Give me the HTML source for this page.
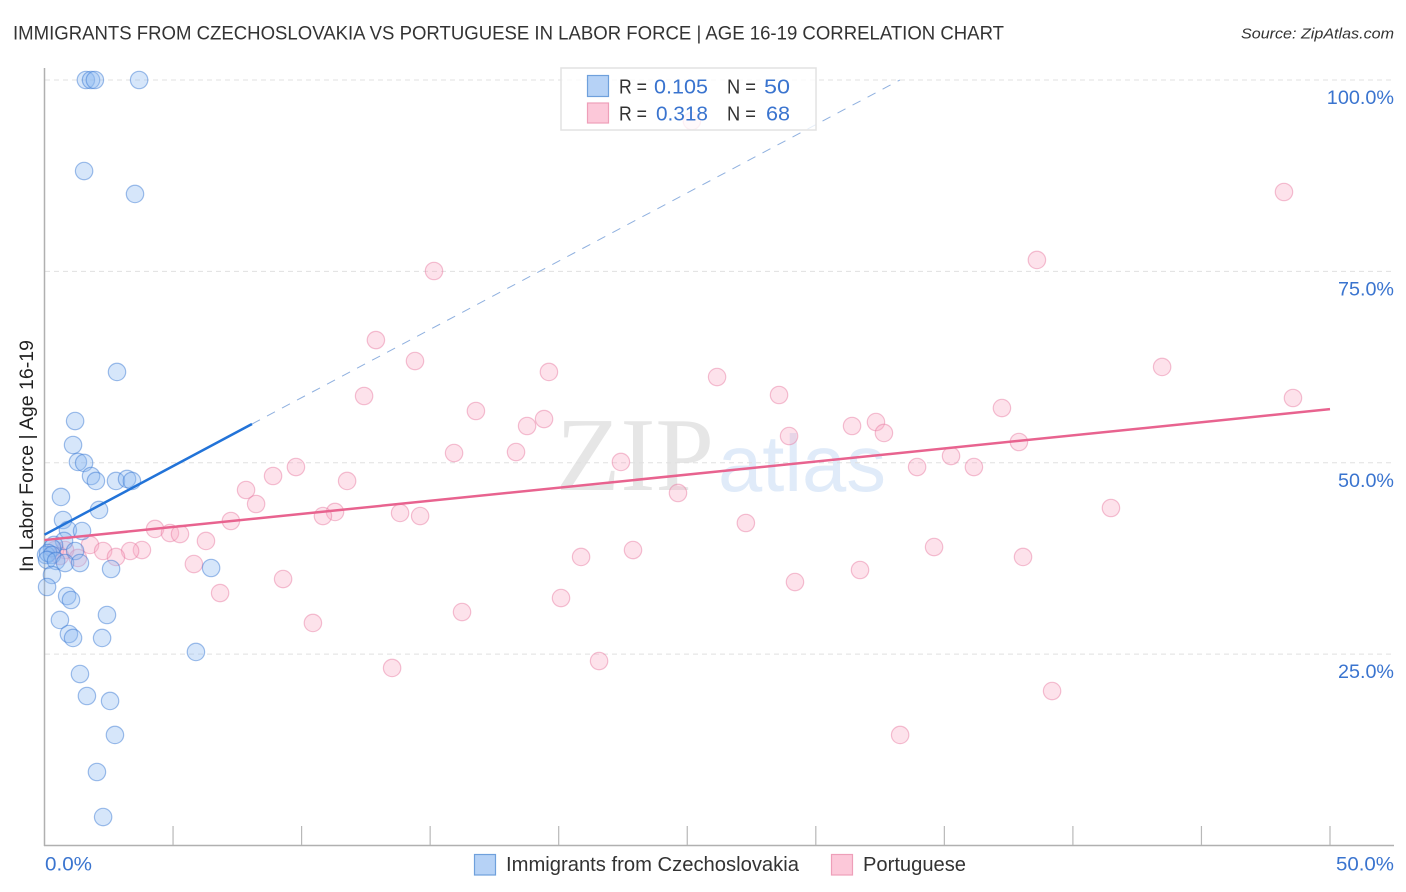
<!DOCTYPE html>
<html lang="en">
<head>
<meta charset="utf-8">
<title>Immigrants from Czechoslovakia vs Portuguese in Labor Force</title>
<style>
html,body{margin:0;padding:0;background:#fff;width:1406px;height:892px;overflow:hidden}
svg{display:block;font-family:"Liberation Sans",sans-serif}
</style>
</head>
<body>
<svg id="chart" width="1406" height="892" viewBox="0 0 1406 892" xmlns="http://www.w3.org/2000/svg">
  <text x="13" y="39.500" font-size="19.500" fill="#333" textLength="991" lengthAdjust="spacingAndGlyphs">IMMIGRANTS FROM CZECHOSLOVAKIA VS PORTUGUESE IN LABOR FORCE | AGE 16-19 CORRELATION CHART</text>
  <text x="1241" y="38.500" font-size="15" font-style="italic" fill="#333" textLength="153" lengthAdjust="spacingAndGlyphs">Source: ZipAtlas.com</text>
  <text transform="translate(33,572) rotate(-90)" font-size="19" fill="#222" textLength="232" lengthAdjust="spacingAndGlyphs">In Labor Force | Age 16-19</text>
  <text x="556" y="490" style="font-family:'Liberation Serif',serif" font-size="105" fill="#e6e6e6" textLength="158" lengthAdjust="spacingAndGlyphs">ZIP</text>
  <text x="718" y="491" style="font-family:'Liberation Sans',Arial,sans-serif" font-size="80" fill="#e0ebf9" textLength="168" lengthAdjust="spacingAndGlyphs">atlas</text>
  <g id="grid"></g>
  <g id="axes"></g>
  <g id="pink-points"></g>
  <g id="blue-points"></g>
  <g id="lines"></g>
  <g>
    <rect x="561" y="68" width="255" height="62" fill="#fff" fill-opacity="0.78" stroke="#e2e2e2" stroke-width="1.500"/>
    <rect x="587.500" y="75.500" width="21" height="21" fill="#b6d2f6" stroke="#6fa0dc" stroke-width="1.200"/>
    <rect x="587.500" y="103" width="21" height="20" fill="#fcc8d9" stroke="#ee9fb9" stroke-width="1.200"/>
    <g font-size="20">
      <text x="619" y="93.500" fill="#333" textLength="28" lengthAdjust="spacingAndGlyphs">R =</text>
      <text x="654" y="93.500" fill="#3a74cf" textLength="54" lengthAdjust="spacingAndGlyphs">0.105</text>
      <text x="727" y="93.500" fill="#333" textLength="29" lengthAdjust="spacingAndGlyphs">N =</text>
      <text x="764" y="93.500" fill="#3a74cf" textLength="26" lengthAdjust="spacingAndGlyphs">50</text>
      <text x="619" y="120.500" fill="#333" textLength="28" lengthAdjust="spacingAndGlyphs">R =</text>
      <text x="656" y="120.500" fill="#3a74cf" textLength="52" lengthAdjust="spacingAndGlyphs">0.318</text>
      <text x="727" y="120.500" fill="#333" textLength="29" lengthAdjust="spacingAndGlyphs">N =</text>
      <text x="766" y="120.500" fill="#3a74cf" textLength="24" lengthAdjust="spacingAndGlyphs">68</text>
    </g>
  </g>
  <g id="tick-labels"></g>
  <g>
    <rect x="474.500" y="854.500" width="21" height="20.500" fill="#b6d2f6" stroke="#6fa0dc" stroke-width="1.200"/>
    <text x="506" y="871" font-size="20" fill="#333" textLength="293" lengthAdjust="spacingAndGlyphs">Immigrants from Czechoslovakia</text>
    <rect x="831.500" y="854.500" width="21" height="20.500" fill="#fcc8d9" stroke="#ee9fb9" stroke-width="1.200"/>
    <text x="863" y="871" font-size="20" fill="#333" textLength="103" lengthAdjust="spacingAndGlyphs">Portuguese</text>
  </g>
</svg>
<script>
const blueX = [1.61,1.81,1.96,3.68,1.54,3.52,2.82,1.19,1.11,1.30,1.54,1.81,2.00,2.78,3.21,3.40,0.64,2.12,0.72,0.91,1.46,0.76,1.19,0.37,0.29,0.06,0.14,0.29,0.10,0.45,0.80,1.38,0.29,0.10,0.88,1.03,2.59,6.48,2.43,0.60,0.95,1.11,2.24,5.89,1.38,1.65,2.55,2.74,2.04,2.28];
const blueY = [100,100,100,100,88.11,85.11,61.86,55.45,52.32,50.10,49.97,48.27,47.62,47.62,47.88,47.62,45.53,43.83,42.52,41.21,41.08,39.78,38.47,39.26,38.86,37.95,38.21,37.95,37.30,37.17,36.90,36.90,35.34,33.77,32.59,32.07,36.12,36.25,30.11,29.46,27.63,27.11,27.11,25.28,22.40,19.53,18.88,14.44,9.60,3.72];
const pinkX = [25.18,48.21,38.60,15.15,12.89,14.41,43.47,19.62,26.16,28.57,12.43,48.56,37.24,16.78,19.43,18.77,31.41,32.34,32.65,28.96,37.90,15.93,18.34,35.26,22.42,9.78,33.94,36.15,8.89,11.77,7.84,24.64,8.23,41.48,11.30,10.83,13.83,14.61,7.25,27.28,4.30,4.88,5.27,6.28,34.60,1.77,3.79,3.33,2.28,22.89,0.80,20.87,38.06,2.78,1.30,5.81,31.72,9.28,29.19,6.83,20.09,16.24,10.44,21.57,13.52,39.19,33.28,0.41,0.60];
const pinkY = [94.64,85.37,76.49,75.05,66.03,63.29,62.51,61.86,61.20,58.85,58.72,58.46,57.15,56.76,55.71,54.80,54.80,55.32,53.89,53.49,52.71,51.27,51.40,50.88,50.10,49.44,49.44,49.44,48.27,47.62,46.44,46.05,44.61,44.09,43.57,43.04,43.44,43.04,42.39,42.13,41.35,40.82,40.69,39.78,38.99,39.26,38.60,38.47,38.47,38.60,38.60,37.69,37.69,37.69,37.56,36.77,35.99,34.81,34.42,32.98,32.33,30.50,29.07,24.10,23.19,20.18,14.44,38.60,37.82];
const blueTrendSolidX = [0, 8.07];
const blueTrendSolidY = [40.6, 55.06];
const blueTrendDashX = [8.07, 33.27];
const blueTrendDashY = [55.06, 100];
const pinkTrendX = [0, 50];
const pinkTrendY = [39.9, 57.0];
const yGridValues = [25, 50, 75, 100];
const yTickLabels = ["25.0%", "50.0%", "75.0%", "100.0%"];
const xTickValues = [0,5,10,15,20,25,30,35,40,45,50];
const xEdgeLabels = ["0.0%", "50.0%"];

const SVG_NS = "http://www.w3.org/2000/svg";
function xPos(v){ return 44.5 + v * 25.71; }
function yPos(v){ return 845.5 - v * 7.655; }
function make(parent, tag, attrs){
  const el = document.createElementNS(SVG_NS, tag);
  for (const k in attrs) el.setAttribute(k, attrs[k]);
  parent.appendChild(el);
  return el;
}

const grid = document.getElementById("grid");
yGridValues.forEach(function(v){
  const el = make(grid, "line", {x1:45, x2:1394, y1:yPos(v), y2:yPos(v), stroke:"#e0e0e0", "stroke-width":1, "stroke-dasharray":"5 4"});
  
  
});

const axes = document.getElementById("axes");
const yAxis = make(axes, "line", {x1:44.5, x2:44.5, y1:68, y2:846, stroke:"#b0b0b0", "stroke-width":1.5});


const xAxis = make(axes, "line", {x1:44, x2:1394, y1:845.5, y2:845.5, stroke:"#b0b0b0", "stroke-width":1.5});


xTickValues.slice(1).forEach(function(v){
  const el = make(axes, "line", {x1:xPos(v), x2:xPos(v), y1:826, y2:845, stroke:"#b8b8b8", "stroke-width":1.2});
  
  
});

function drawPoints(groupId, xs, ys, fill, stroke){
  const g = document.getElementById(groupId);
  xs.forEach(function(x, i){
    const c = make(g, "circle", {cx:xPos(x), cy:yPos(ys[i]), r:8.7, fill:fill, stroke:stroke, "stroke-width":1.2});
    
    
  });
}
drawPoints("pink-points", pinkX, pinkY, "rgba(248,170,195,0.34)", "rgba(232,120,160,0.46)");
drawPoints("blue-points", blueX, blueY, "rgba(140,185,240,0.36)", "rgba(50,115,210,0.46)");

const lines = document.getElementById("lines");
const dash = make(lines, "line", {x1:xPos(blueTrendDashX[0]), y1:yPos(blueTrendDashY[0]), x2:xPos(blueTrendDashX[1]), y2:yPos(blueTrendDashY[1]), stroke:"#8fb0df", "stroke-width":1, "stroke-dasharray":"9 8"});


const solid = make(lines, "line", {x1:xPos(blueTrendSolidX[0]), y1:yPos(blueTrendSolidY[0]), x2:xPos(blueTrendSolidX[1]), y2:yPos(blueTrendSolidY[1]), stroke:"#2273d8", "stroke-width":2.5});


const pinkLine = make(lines, "line", {x1:xPos(pinkTrendX[0]), y1:yPos(pinkTrendY[0]), x2:xPos(pinkTrendX[1]), y2:yPos(pinkTrendY[1]), stroke:"#e8638f", "stroke-width":2.5});



const labels = document.getElementById("tick-labels");
yGridValues.forEach(function(v, i){
  const t = make(labels, "text", {x:1394, y:yPos(v) + 24, "text-anchor":"end", "font-size":19.5, fill:"#3a74cf", textLength:yTickLabels[i].length * 11.2, lengthAdjust:"spacingAndGlyphs"});
  t.textContent = yTickLabels[i];
  
  
});
const xLeft = make(labels, "text", {x:45, y:870.5, "font-size":19.5, fill:"#3a74cf", textLength:47, lengthAdjust:"spacingAndGlyphs"});
xLeft.textContent = xEdgeLabels[0];


const xRight = make(labels, "text", {x:1336, y:870.5, "font-size":19.5, fill:"#3a74cf", textLength:58, lengthAdjust:"spacingAndGlyphs"});
xRight.textContent = xEdgeLabels[1];


</script>
</body>
</html>
